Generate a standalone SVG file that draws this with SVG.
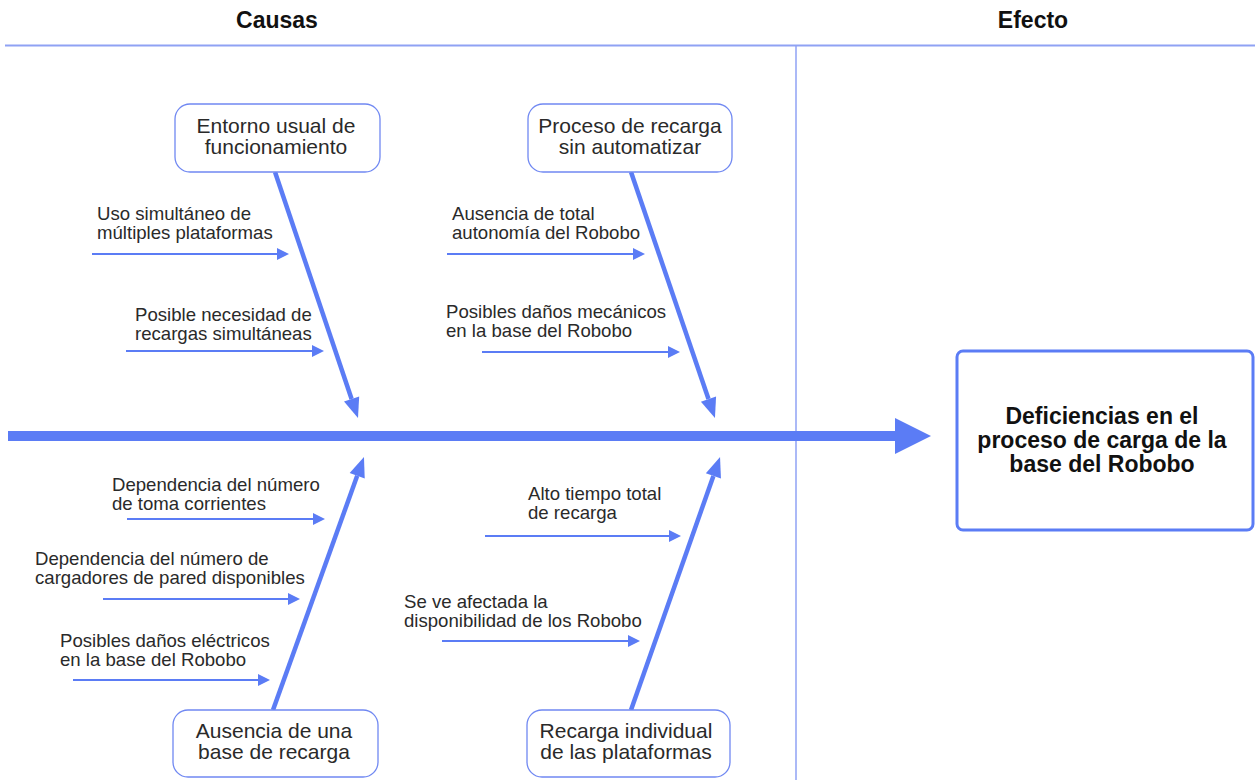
<svg xmlns="http://www.w3.org/2000/svg" width="1255" height="780" viewBox="0 0 1255 780">
<style>
text{font-family:"Liberation Sans",Arial,sans-serif;fill:#2a2a2a}
.hdr{font-size:23px;font-weight:bold;text-anchor:middle;fill:#111}
.lbl{font-size:18.6px}
.box{font-size:21px;text-anchor:middle}
.eff{font-size:23px;font-weight:bold;text-anchor:middle;fill:#111}
.cbox{fill:#fff;stroke:#7088f2;stroke-width:1.3}
.bone{stroke:#5b7cf5;stroke-width:4.5;fill:none;marker-end:url(#bh)}
.sub{stroke:#5b7cf5;stroke-width:2;fill:none;marker-end:url(#sh)}
</style>
<defs>
<marker id="bh" markerUnits="userSpaceOnUse" markerWidth="22" markerHeight="18" refX="0" refY="8" orient="auto" overflow="visible"><path d="M0,0 L20,8 L0,16 z" fill="#5b7cf5"/></marker>
<marker id="sh" markerUnits="userSpaceOnUse" markerWidth="14" markerHeight="14" refX="0" refY="6" orient="auto" overflow="visible"><path d="M0,0 L12,6 L0,12 z" fill="#5b7cf5"/></marker>
</defs>
<rect width="1255" height="780" fill="#fff"/>
<g id="headers">
<text class="hdr" x="277" y="28">Causas</text>
<text class="hdr" x="1033" y="28">Efecto</text>
<line x1="5" y1="45.5" x2="1255" y2="45.5" stroke="#8fa2f4" stroke-width="2"/>
<line x1="796" y1="46" x2="796" y2="780" stroke="#8fa2f4" stroke-width="1.5"/>
</g>
<g id="connectors">
<rect x="8" y="431" width="888" height="10" fill="#5b7cf5"/>
<path d="M895,418 L931,436 L895,454 z" fill="#5b7cf5"/>
<line class="bone" x1="275" y1="172" x2="351.6" y2="399"/>
<line class="bone" x1="631" y1="172" x2="708.5" y2="399.1"/>
<line class="bone" x1="273" y1="710" x2="357.2" y2="475.8"/>
<line class="bone" x1="631" y1="710" x2="713.4" y2="475.9"/>
<line class="sub" x1="92" y1="254" x2="277" y2="254"/>
<line class="sub" x1="126" y1="351" x2="312" y2="351"/>
<line class="sub" x1="447" y1="254" x2="633" y2="254"/>
<line class="sub" x1="482" y1="352" x2="668" y2="352"/>
<line class="sub" x1="127" y1="519" x2="313" y2="519"/>
<line class="sub" x1="103" y1="599" x2="288" y2="599"/>
<line class="sub" x1="73" y1="680" x2="258" y2="680"/>
<line class="sub" x1="485" y1="536" x2="669" y2="536"/>
<line class="sub" x1="442" y1="641" x2="628" y2="641"/>
</g>
<g id="node-entorno">
<rect class="cbox" x="175" y="104" width="205" height="68" rx="15"/>
<text class="box" x="276" y="133">Entorno usual de</text>
<text class="box" x="276" y="154">funcionamiento</text>
</g>
<g id="node-proceso">
<rect class="cbox" x="528" y="104" width="204" height="68" rx="15"/>
<text class="box" x="630" y="133">Proceso de recarga</text>
<text class="box" x="630" y="154">sin automatizar</text>
</g>
<g id="node-ausencia">
<rect class="cbox" x="173" y="710" width="205" height="67" rx="15"/>
<text class="box" x="274" y="738">Ausencia de una</text>
<text class="box" x="274" y="759">base de recarga</text>
</g>
<g id="node-recarga">
<rect class="cbox" x="527" y="710" width="203" height="67" rx="15"/>
<text class="box" x="626" y="738">Recarga individual</text>
<text class="box" x="626" y="759">de las plataformas</text>
</g>
<g id="node-efecto">
<rect x="957" y="351" width="296" height="179" rx="6" fill="#fff" stroke="#5b7cf5" stroke-width="3"/>
<text class="eff" x="1102" y="424">Deficiencias en el</text>
<text class="eff" x="1102" y="448">proceso de carga de la</text>
<text class="eff" x="1102" y="472">base del Robobo</text>
</g>
<g id="labels">
<g id="c1"><text class="lbl" x="97" y="220">Uso simultáneo de</text><text class="lbl" x="97" y="239">múltiples plataformas</text></g>
<g id="c2"><text class="lbl" x="135" y="321">Posible necesidad de</text><text class="lbl" x="135" y="340">recargas simultáneas</text></g>
<g id="c3"><text class="lbl" x="452" y="220">Ausencia de total</text><text class="lbl" x="452" y="239">autonomía del Robobo</text></g>
<g id="c4"><text class="lbl" x="446" y="318">Posibles daños mecánicos</text><text class="lbl" x="446" y="337">en la base del Robobo</text></g>
<g id="c5"><text class="lbl" x="112" y="491">Dependencia del número</text><text class="lbl" x="112" y="510">de toma corrientes</text></g>
<g id="c6"><text class="lbl" x="35" y="565">Dependencia del número de</text><text class="lbl" x="35" y="584">cargadores de pared disponibles</text></g>
<g id="c7"><text class="lbl" x="60" y="647">Posibles daños eléctricos</text><text class="lbl" x="60" y="666">en la base del Robobo</text></g>
<g id="c8"><text class="lbl" x="528" y="500">Alto tiempo total</text><text class="lbl" x="528" y="519">de recarga</text></g>
<g id="c9"><text class="lbl" x="404" y="608">Se ve afectada la</text><text class="lbl" x="404" y="627">disponibilidad de los Robobo</text></g>
</g>
</svg>
